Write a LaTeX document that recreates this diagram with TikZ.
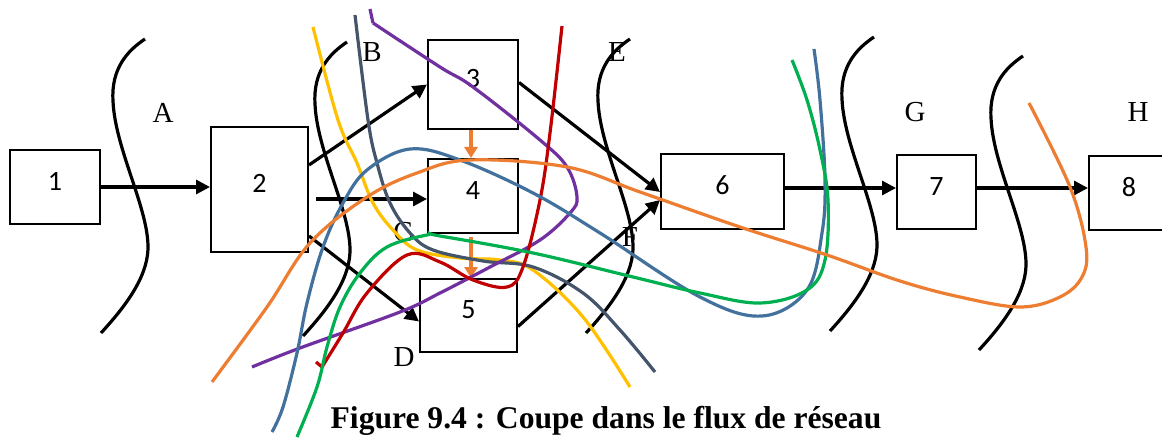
\documentclass[tikz,border=0pt]{standalone}
\usepackage{fontspec}
\setmainfont{Liberation Serif}
\newfontfamily\boxfont{Carlito}
\usetikzlibrary{arrows.meta,calc}
\definecolor{cyellow}{HTML}{FFC000}
\definecolor{cslate}{HTML}{44546A}
\definecolor{cpurple}{HTML}{7030A0}
\definecolor{cred}{HTML}{C00000}
\definecolor{cblue}{HTML}{41719C}
\definecolor{cgreen}{HTML}{00B050}
\definecolor{corange}{HTML}{ED7D31}
\tikzset{
  box/.style={draw,line width=2pt,inner sep=0pt,font=\boxfont\fontsize{28}{30}\selectfont,
    text height=18pt,text depth=12pt},
  flow/.style={line width=3.2pt,-{Triangle[length=14pt,width=14pt]}},
  oflow/.style={corange,line width=3.2pt,-{Triangle[length=11pt,width=13pt]}},
  cutline/.style={line width=3.2pt},
  cutlabel/.style={font=\fontsize{29}{30}\selectfont,inner sep=0pt},
  cline/.style={line width=3.2pt},
  cutcurve/.pic={\draw[cutline] (32,0) .. controls (14,12) and (-2,30) .. (0,62)
     .. controls (2,110) and (36,170) .. (35,210) .. controls (34,240) and (10,270) .. (-12,294);}
}
\begin{document}
\begin{tikzpicture}[x=1pt,y=-1pt]
\useasboundingbox (0,0) rectangle (1162,441);
% boxes
\node[box,minimum width=90pt,minimum height=74pt] (b1) at (55,187) {1};
\node[box,minimum width=97pt,minimum height=125pt] (b2) at (259.5,189.5) {2};
\node[box,minimum width=90pt,minimum height=89pt] (b3) at (473,84.5) {3};
\node[box,minimum width=90pt,minimum height=74pt] (b4) at (473,196) {4};
\node[box,minimum width=97pt,minimum height=73pt] (b5) at (468.5,315.5) {5};
\node[box,minimum width=123pt,minimum height=75pt] (b6) at (722.5,191.5) {6};
\node[box,minimum width=79pt,minimum height=74pt] (b7) at (936.5,192) {7};
\node[box,minimum width=80pt,minimum height=74pt] (b8) at (1129,193) {8};
% arrows
\draw[flow] (b1.east) -- (b1.east -| b2.west);
\draw[flow] ($(b2.east)+(0,-24.5)$) -- (b3.west);
\draw[flow] ($(b2.east |- b4.west)+(7,3)$) -- ($(b4.west)+(0,3)$);
\draw[flow] ($(b2.east)+(0,46.5)$) -- ($(b5.west)+(0,6)$);
\draw[flow] ($(b3.east)+(0,-2)$) -- ($(b6.west)+(0,0.5)$);
\draw[flow] ($(b5.east)+(0,11)$) -- ($(b6.west)+(0,8.5)$);
\draw[flow] ($(b6.east)+(0,-3.5)$) -- ($(b7.west)+(0,-4)$);
\draw[flow] ($(b7.east)+(0,-4)$) -- ($(b8.west)+(0,-5)$);
\draw[oflow] ($(b3.south)+(-2,0)$) -- ($(b4.north)+(-2,0)$);
\draw[oflow] ($(b4.south)+(-2,3)$) -- ($(b4.south |- b5.north)+(-2,0)$);
% black cut curves
\pic at (113,39) {cutcurve};
\pic at (315,42) {cutcurve};
\pic at (598,39) {cutcurve};
\pic at (842,37) {cutcurve};
\pic at (991,56) {cutcurve};
% cut labels
\node[cutlabel] (lA) at (163,113) {A};
\node[cutlabel] (lB) at (372,52) {B};
\node[cutlabel] (lC) at (403,232) {C};
\node[cutlabel] (lD) at (404,357) {D};
\node[cutlabel] (lE) at (617,52) {E};
\node[cutlabel] (lF) at (630,237) {F};
\node[cutlabel] (lG) at (915,112) {G};
\node[cutlabel] (lH) at (1138,112) {H};
% coloured cuts
\draw[cline,cyellow] plot[smooth,tension=0.6] coordinates {(313,27) (338,120) (357,163) (373,203) (393,230) (417,250) (460,258) (500,260) (533,270) (583,317) (630,387)};
\draw[cline,cslate] plot[smooth,tension=0.6] coordinates {(355,15) (368,120) (377,163) (390,203) (410,233) (433,250) (483,261) (533,267) (583,293) (620,330) (655,372)};
\draw[cline,cpurple] (370,9) -- (373,23) plot[smooth,tension=0.6] coordinates {(373,23) (440,67) (473,87) (540,140) (567,167) (577,197) (570,213) (540,240) (490,267) (440,293) (400,312) (300,348) (252,367)};
\draw[cline,cred] plot[smooth,tension=0.6] coordinates {(562,26) (550,133) (540,200) (523,267) (507,287) (473,280) (440,262) (407,255) (367,293) (343,333) (322,367)} -- (316,362);
\draw[cline,cblue] plot[smooth,tension=0.6] coordinates {(272,432) (283,407) (297,353) (307,303) (323,247) (343,203) (367,170) (410,149) (460,160) (533,193) (600,233) (700,297) (762,316) (807,290) (822,233) (825,180) (820,100) (814,49)};
\draw[cline,cgreen] plot[smooth,tension=0.6] coordinates {(297,437) (317,387) (327,347) (340,307) (360,273) (387,247) (427,235) (440,236) (533,253) (633,277) (700,293) (760,303) (807,290) (825,260) (828,200) (820,150) (807,100) (792,60)};
\draw[cline,corange] plot[smooth,tension=0.6] coordinates {(212,382) (267,307) (310,243) (367,197) (417,173) (470,160) (567,167) (640,192) (740,227) (827,255) (900,281) (960,297) (1020,307) (1060,297) (1082,277) (1086,247) (1070,187) (1029,103)};
% caption
\node[font=\bfseries\fontsize{31.6}{33}\selectfont,anchor=base,inner sep=0pt] (cap) at (606,428) {Figure 9.4 : Coupe dans le flux de réseau};
\end{tikzpicture}
\end{document}
